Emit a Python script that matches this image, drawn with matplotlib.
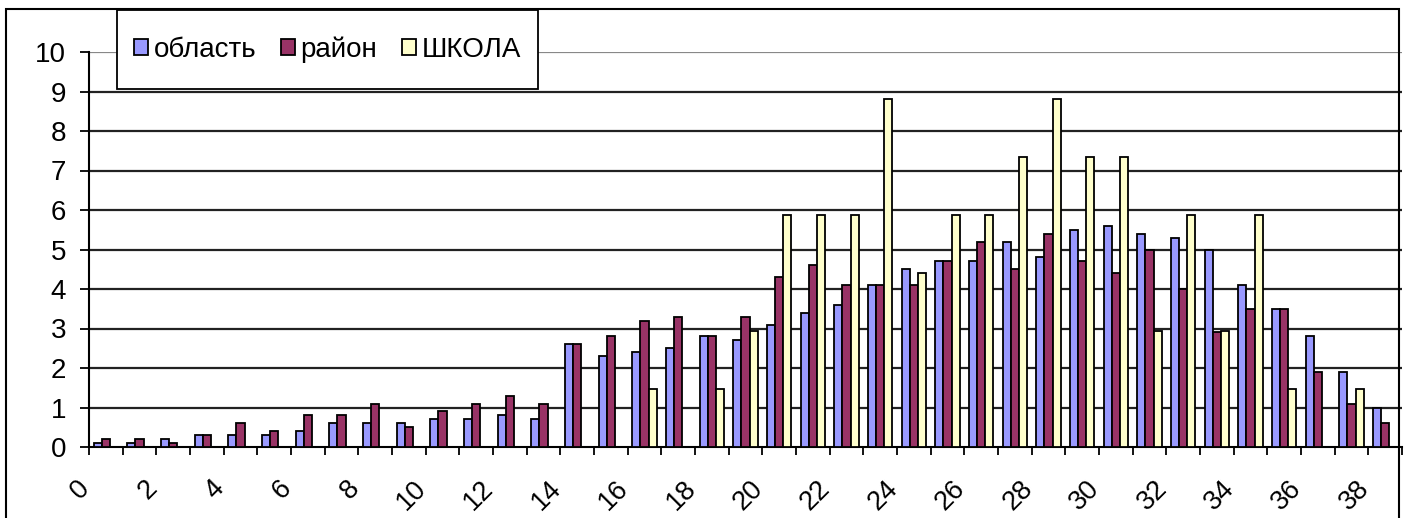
import numpy as np
import matplotlib.pyplot as plt
from matplotlib.patches import Rectangle
from matplotlib.transforms import ScaledTranslation

# --- data ---
categories = list(range(39))
oblast = [0.1, 0.1, 0.2, 0.3, 0.3, 0.3, 0.4, 0.6, 0.6, 0.6,
          0.7, 0.7, 0.8, 0.7, 2.6, 2.3, 2.4, 2.5, 2.8, 2.7,
          3.1, 3.4, 3.6, 4.1, 4.5, 4.7, 4.7, 5.2, 4.8, 5.5,
          5.6, 5.4, 5.3, 5.0, 4.1, 3.5, 2.8, 1.9, 1.0]
rayon = [0.2, 0.2, 0.1, 0.3, 0.6, 0.4, 0.8, 0.8, 1.1, 0.5,
         0.9, 1.1, 1.3, 1.1, 2.6, 2.8, 3.2, 3.3, 2.8, 3.3,
         4.3, 4.6, 4.1, 4.1, 4.1, 4.7, 5.2, 4.5, 5.4, 4.7,
         4.4, 5.0, 4.0, 2.9, 3.5, 3.5, 1.9, 1.1, 0.6]
shkola = [0, 0, 0, 0, 0, 0, 0, 0, 0, 0,
          0, 0, 0, 0, 0, 0, 1.47, 0, 1.47, 2.94,
          5.88, 5.88, 5.88, 8.82, 4.41, 5.88, 5.88, 7.35, 8.82, 7.35,
          7.35, 2.94, 5.88, 2.94, 5.88, 1.47, 0, 1.47, 0]
series_names = ['область', 'район', 'ШКОЛА']
colors = ['#9999FF', '#993366', '#FFFFCC']

plt.rcParams['font.family'] = ['Liberation Sans', 'DejaVu Sans']

W, H = 1409, 518
fig = plt.figure(figsize=(W / 100, H / 100), dpi=100)

# outer chart frame
fig.patches.append(Rectangle((6 / W, -0.05), (1399 - 6) / W, 1 - 9 / H + 0.05,
                             transform=fig.transFigure, fill=False,
                             edgecolor='black', linewidth=1.5, zorder=0))

ax = fig.add_axes([89 / W, 1 - 447 / H, (1402 - 89) / W, (447 - 52) / H])
ax.patch.set_alpha(0)

x = np.arange(len(categories))
bw = 0.24
handles = []
for i, (vals, name, col) in enumerate(zip([oblast, rayon, shkola], series_names, colors)):
    b = ax.bar(x + (i - 1) * bw, vals, width=bw, color=col, edgecolor='black',
               linewidth=1.3, label=name, zorder=3)
    handles.append(b)

ax.set_xlim(-0.5, len(categories) - 0.5)
ax.set_ylim(0, 10)

# horizontal grid
for yv in range(1, 11):
    ax.axhline(yv, color='#222222' if yv < 10 else '#888888', linewidth=1.6, zorder=1)

ax.set_yticks(range(0, 11))
ax.set_yticklabels([str(v) for v in range(0, 11)], fontsize=20)
ax.tick_params(axis='y', length=6.5, width=1.3, direction='out', pad=10)

ax.set_xticks(x[::2])
ax.set_xticks(np.arange(-0.5, len(categories)), minor=True)
ax.tick_params(axis='x', which='major', length=0, pad=27)
ax.tick_params(axis='x', which='minor', length=6, width=1.3, direction='out')
ax.set_xticklabels([str(c) for c in categories[::2]], rotation=45, fontsize=19.5,
                   ha='right', va='center', rotation_mode='anchor')

for s in ['top', 'right']:
    ax.spines[s].set_visible(False)
for s in ['left', 'bottom']:
    ax.spines[s].set_linewidth(1.5)
    ax.spines[s].set_color('black')

# legend box
lx0, lx1, ly0, ly1 = 117, 538, 10, 89
fig.patches.append(Rectangle((lx0 / W, 1 - ly1 / H), (lx1 - lx0) / W, (ly1 - ly0) / H,
                             transform=fig.transFigure, facecolor='white',
                             edgecolor='black', linewidth=1.3, zorder=5))
leg = fig.legend(handles=handles, loc='center',
                 bbox_to_anchor=((lx0 + lx1) / 2 / W, 1 - (ly0 + ly1) / 2 / H),
                 ncol=3, frameon=False, fontsize=20, handlelength=0.5,
                 handleheight=0.5, handletextpad=0.2, columnspacing=0.9)
leg.set_zorder(6)

# shift rotated x labels to the left like in the original (after tick_params)
shift = ScaledTranslation(-20 / 100, 0, fig.dpi_scale_trans)
for lab in ax.get_xticklabels():
    lab.set_transform(lab.get_transform() + shift)

fig.savefig('out.png', dpi=100)
